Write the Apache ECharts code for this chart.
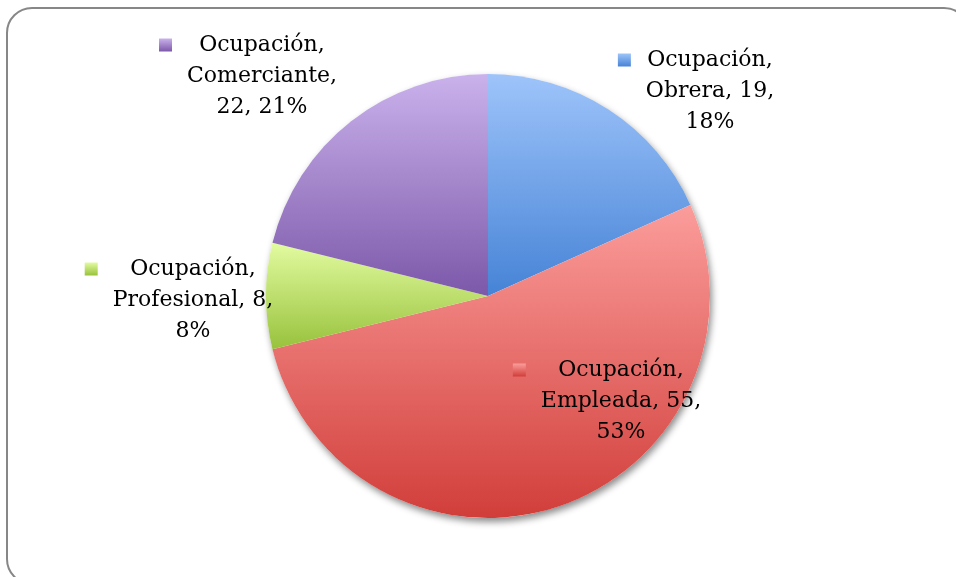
<!DOCTYPE html>
<html>
<head>
<meta charset="utf-8">
<script src="https://cdn.jsdelivr.net/npm/echarts@6/dist/echarts.min.js"></script>
<style>
    html, body { margin: 0; padding: 0; background: #fff; }
    #chart { width: 956px; height: 577px; }
</style>
</head>
<body>
<div id="chart"></div>
<script>
var prefix = 'Ocupación';
var categories = ['Obrera', 'Empleada', 'Profesional', 'Comerciante'];
var values = [19, 55, 8, 22];

// light (top) -> dark (bottom) for each slice
var lightColors = ['#9ec4fa', '#fb9d9b', '#e2fba0', '#cab2ec'];
var darkColors = ['#4683d6', '#d13e3a', '#98c23c', '#7c58a9'];

var FONT = '"DejaVu Serif", serif';
var FONT_SIZE = 22;

// where Excel dropped each label (centre of the text block)
var labelAnchors = [[710, 90], [621, 400], [193, 299], [262, 75]];

function grad(i) {
    return new echarts.graphic.LinearGradient(0, 0, 0, 1, [
        { offset: 0, color: lightColors[i] },
        { offset: 1, color: darkColors[i] }
    ]);
}

var ctx = document.createElement('canvas').getContext('2d');
ctx.font = FONT_SIZE + 'px ' + FONT;
function textW(s) { return ctx.measureText(s).width; }

var total = values.reduce(function (a, b) { return a + b; }, 0);

function labelLines(i) {
    var pct = Math.round(values[i] / total * 100) + '%';
    var l2 = categories[i] + ', ' + values[i] + ',';
    if (textW(l2) > 175) {
        return [prefix + ',', categories[i] + ',', values[i] + ', ' + pct];
    }
    return [prefix + ',', l2, pct];
}

var pieData = values.map(function (v, i) {
    var lines = labelLines(i);
    var maxW = Math.max.apply(null, lines.map(textW));
    var side = (maxW - textW(lines[0])) / 2 + 28;
    return {
        value: v,
        name: categories[i],
        itemStyle: { color: grad(i) },
        label: {
            rich: {
                t: { fontFamily: FONT, fontSize: FONT_SIZE, lineHeight: 31, color: '#000', align: 'center' },
                sq: { width: 13, height: 13, backgroundColor: grad(i), align: 'center' },
                pad: { width: side - 13, height: 13, align: 'center' },
                sp: { width: side, height: 13, align: 'center' }
            }
        }
    };
});

var chart = echarts.init(document.getElementById('chart'));
chart.setOption({
    backgroundColor: '#fff',
    animation: false,
    graphic: [{
        type: 'rect',
        shape: { x: 7, y: 8, width: 962, height: 576, r: 25 },
        style: { fill: null, stroke: '#878787', lineWidth: 2 },
        silent: true,
        z: -10
    }],
    series: [
        {
            // shadow under the whole pie
            type: 'pie',
            center: [488, 296],
            radius: 222,
            silent: true,
            label: { show: false },
            labelLine: { show: false },
            itemStyle: {
                color: '#fff',
                shadowColor: 'rgba(0,0,0,0.45)',
                shadowBlur: 7,
                shadowOffsetX: 2,
                shadowOffsetY: 4
            },
            data: [{ value: total, name: '' }]
        },
        {
            type: 'pie',
            center: [488, 296],
            radius: 222,
            startAngle: 90,
            clockwise: true,
            percentPrecision: 0,
            silent: true,
            itemStyle: { borderWidth: 0 },
            label: {
                show: true,
                position: 'inside',
                align: 'center',
                fontFamily: FONT,
                fontSize: FONT_SIZE,
                lineHeight: 31,
                color: '#000',
                formatter: function (p) {
                    var lines = labelLines(p.dataIndex);
                    return '{sq|}{pad|}{t|' + lines[0] + '}{sp|}\n{t|' + lines[1] + '}\n{t|' + lines[2] + '}';
                }
            },
            labelLine: { show: false },
            labelLayout: function (p) {
                var a = labelAnchors[p.dataIndex];
                return { x: a[0], y: a[1] + 1, align: 'center', verticalAlign: 'middle' };
            },
            data: pieData
        }
    ]
});
</script>
</body>
</html>
